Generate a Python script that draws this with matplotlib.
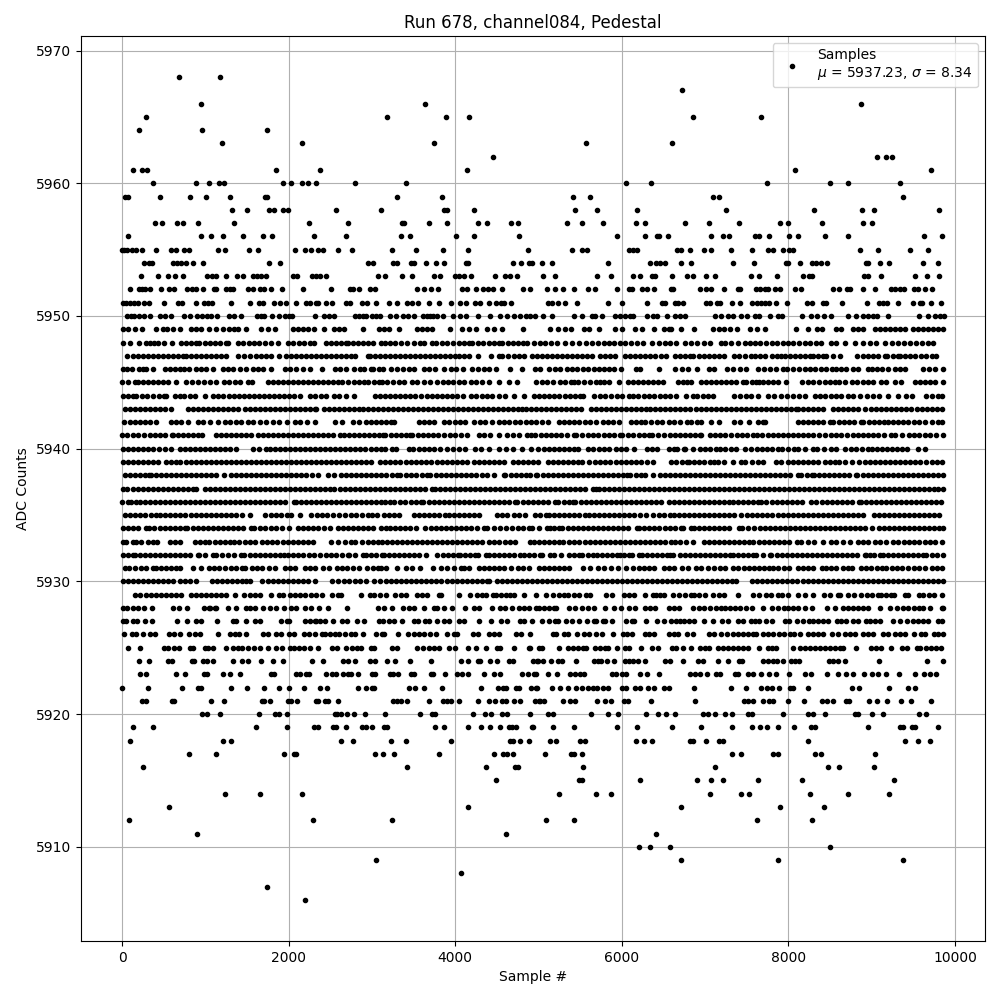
import matplotlib
matplotlib.use('Agg')
import matplotlib.pyplot as plt

# sample numbers, one list per ADC level
lvl_5968 = [682, 1173]
lvl_5967 = [6721]
lvl_5966 = [946, 3640, 8876]
lvl_5965 = [287, 3184, 3890, 4165, 6853, 7667]
lvl_5964 = [203, 958, 1736]
lvl_5963 = [1197, 2155, 3747, 5572, 6602]
lvl_5962 = [4453, 9068, 9175, 9247]
lvl_5961 = [132, 235, 299, 1843, 2370, 4142, 8074, 9714]
lvl_5960 = [371, 886, 1041, 1161, 1225, 1927, 2023, 2155, 2226, 2322, 2801, 3412, 6051, 6350, 7739, 8493, 8709, 9343]
lvl_5959 = [40, 72, 455, 814, 1005, 1293, 1712, 1740, 3304, 3842, 5417, 5620, 7089, 7160, 9379]
lvl_5958 = [1317, 1497, 1760, 1820, 1927, 1987, 2574, 3112, 3862, 3906, 4225, 5441, 5704, 6183, 7248, 8301, 8888, 9032, 9810]
lvl_5957 = [395, 479, 658, 730, 910, 1341, 2238, 2717, 3356, 3384, 3687, 3902, 4273, 4381, 4668, 4752, 5345, 5524, 5776, 6171, 6279, 6757, 7045, 7404, 7895, 7990, 8397, 8900, 9008]
lvl_5956 = [72, 946, 1065, 1209, 1448, 1688, 1796, 2298, 2693, 3352, 3459, 4010, 4225, 4764, 5943, 6279, 6422, 6446, 6554, 7069, 7212, 7284, 7595, 7643, 7763, 8002, 8110, 8433, 8720, 9630, 9846]
lvl_5955 = [0, 24, 64, 124, 164, 239, 407, 590, 646, 742, 802, 1149, 1233, 1520, 1628, 2071, 2190, 2262, 2346, 2406, 2597, 2765, 3244, 3531, 3854, 4154, 4872, 5405, 5524, 5584, 6087, 6135, 6183, 6662, 6710, 6817, 6985, 7069, 7308, 7559, 7751, 7811, 7930, 8002, 8050, 8864, 9079, 9463, 9678]
lvl_5954 = [263, 323, 363, 610, 662, 702, 766, 854, 970, 1760, 1891, 2957, 3016, 3256, 3304, 3467, 3503, 3651, 3771, 3866, 4134, 4154, 4692, 4788, 4880, 4920, 5046, 5165, 5836, 6338, 6410, 6458, 6518, 6710, 6829, 7332, 7583, 7966, 7990, 8134, 8278, 8325, 8385, 8457, 8936, 8960, 9103, 9211, 9618, 9798]
lvl_5953 = [227, 431, 551, 634, 730, 1017, 1077, 1125, 1249, 1377, 1448, 1568, 1620, 1672, 1724, 2047, 2099, 2274, 2322, 2370, 2442, 3076, 3160, 3364, 3483, 3747, 3815, 3998, 4046, 4106, 4186, 4473, 4597, 4656, 4740, 5058, 5201, 5704, 5872, 6135, 6219, 6362, 6398, 6602, 6781, 6853, 7009, 7116, 7547, 7643, 7859, 8170, 8242, 8278, 8912, 8960, 9115, 9522, 9666, 9810]
lvl_5952 = [96, 203, 243, 271, 335, 467, 563, 622, 778, 838, 882, 970, 1101, 1125, 1245, 1293, 1337, 1508, 1568, 1652, 1708, 1784, 1915, 2167, 2502, 2741, 2777, 2849, 2981, 3040, 3543, 3627, 3711, 3795, 4082, 4142, 4249, 4333, 4393, 4453, 4561, 4812, 4896, 5105, 5201, 5297, 5429, 5596, 5680, 5943, 6087, 6123, 6243, 6302, 6386, 6590, 6614, 6937, 7009, 7069, 7224, 7392, 7416, 7607, 7655, 7715, 7751, 7835, 7895, 8074, 8146, 8529, 8601, 8697, 8744, 8900, 9044, 9235, 9283, 9343, 9391, 9510, 9558, 9642, 9726]
lvl_5951 = [12, 44, 96, 144, 192, 263, 323, 503, 670, 718, 886, 981, 1029, 1077, 1305, 1532, 1640, 1688, 1820, 1891, 1963, 2083, 2202, 2258, 2322, 2346, 2442, 2514, 2693, 2741, 2885, 2945, 3052, 3208, 3304, 3423, 3479, 3551, 3687, 3807, 3950, 4058, 4126, 4237, 4293, 4405, 4489, 4549, 4585, 4668, 5117, 5165, 5237, 5321, 5465, 5836, 6003, 6302, 6482, 6518, 6638, 6674, 6733, 7009, 7057, 7140, 7172, 7320, 7416, 7559, 7619, 7667, 7715, 7763, 7847, 7978, 8218, 8278, 8409, 8445, 8637, 8948, 9092, 9139, 9187, 9319, 9498, 9582, 9606, 9714, 9834]
lvl_5950 = [64, 104, 144, 203, 263, 335, 455, 510, 591, 742, 814, 902, 960, 1021, 1069, 1141, 1281, 1349, 1425, 1620, 1665, 1708, 1796, 1879, 1951, 2000, 2039, 2310, 2418, 2480, 2538, 2797, 2850, 2897, 2933, 2997, 3050, 3096, 3216, 3290, 3368, 3435, 3503, 3615, 3660, 3695, 3727, 3783, 3847, 3974, 4054, 4126, 4273, 4421, 4541, 4621, 4708, 4772, 4844, 4900, 4952, 5058, 5165, 5429, 5524, 5636, 5676, 5764, 5915, 5975, 6035, 6095, 6135, 6302, 6374, 6422, 6542, 6638, 6700, 6753, 7116, 7188, 7272, 7332, 7432, 7500, 7595, 7651, 7775, 7871, 7919, 8158, 8265, 8337, 8429, 8509, 8720, 8808, 8900, 8960, 9020, 9067, 9199, 9570, 9678, 9758, 9814, 9866]
lvl_5949 = [9, 69, 149, 241, 409, 489, 541, 609, 701, 829, 890, 950, 1049, 1129, 1209, 1280, 1349, 1389, 1489, 1669, 1749, 1841, 2049, 2110, 2170, 2229, 2309, 2429, 2549, 2610, 2669, 2889, 3089, 3140, 3202, 3322, 3542, 3600, 3660, 3722, 3942, 4082, 4162, 4246, 4382, 4470, 4562, 4814, 5142, 5230, 5314, 5394, 5542, 5602, 5722, 5922, 6002, 6162, 6242, 6382, 6502, 6562, 6595, 6715, 6867, 7095, 7160, 7230, 7295, 7383, 7539, 7627, 7723, 8091, 8235, 8347, 8403, 8575, 8635, 8775, 8840, 8895, 9035, 9095, 9155, 9215, 9275, 9335, 9395, 9495, 9555, 9615, 9675, 9735, 9795, 9860]
lvl_5948 = [9, 89, 197, 289, 340, 389, 437, 509, 597, 709, 770, 830, 889, 929, 990, 1050, 1110, 1170, 1249, 1269, 1389, 1450, 1520, 1589, 1649, 1710, 1790, 1869, 1989, 2050, 2120, 2180, 2250, 2309, 2449, 2510, 2570, 2630, 2689, 2709, 2770, 2830, 2890, 2950, 3010, 3109, 3160, 3220, 3282, 3350, 3422, 3500, 3582, 3622, 3722, 3774, 3840, 3900, 3970, 4040, 4100, 4162, 4202, 4270, 4330, 4400, 4460, 4522, 4562, 4630, 4690, 4750, 4814, 4862, 4942, 5022, 5082, 5150, 5222, 5322, 5400, 5482, 5574, 5640, 5710, 5780, 5840, 5910, 5980, 6040, 6110, 6180, 6254, 6362, 6440, 6515, 6582, 6650, 6755, 6835, 6900, 6980, 7055, 7195, 7235, 7307, 7390, 7475, 7535, 7595, 7660, 7730, 7800, 7860, 7930, 8000, 8060, 8130, 8200, 8260, 8330, 8395, 8507, 8575, 8675, 8795, 8895, 8975, 9055, 9163, 9240, 9315, 9387, 9460, 9530, 9600, 9675, 9735]
lvl_5947 = [60, 130, 190, 250, 310, 370, 430, 489, 550, 610, 670, 729, 770, 830, 890, 949, 1009, 1069, 1130, 1190, 1250, 1389, 1460, 1541, 1609, 1669, 1729, 1789, 1880, 1969, 2030, 2090, 2150, 2210, 2270, 2330, 2390, 2450, 2510, 2570, 2630, 2690, 2750, 2800, 2950, 2982, 3042, 3100, 3160, 3220, 3280, 3340, 3400, 3460, 3520, 3580, 3640, 3700, 3760, 3820, 3880, 3940, 4000, 4050, 4102, 4162, 4270, 4430, 4522, 4562, 4630, 4700, 4770, 4822, 4922, 4980, 5040, 5100, 5160, 5220, 5280, 5340, 5400, 5460, 5520, 5580, 5642, 5742, 5800, 5860, 5922, 6042, 6100, 6160, 6220, 6280, 6342, 6402, 6470, 6534, 6643, 6700, 6760, 6815, 6855, 6920, 6980, 7040, 7100, 7160, 7227, 7347, 7410, 7480, 7555, 7595, 7660, 7715, 7803, 7860, 7915, 7963, 8020, 8080, 8140, 8200, 8255, 8295, 8355, 8415, 8455, 8530, 8615, 8827, 8890, 8950, 9010, 9080, 9155, 9187, 9250, 9315, 9335, 9400, 9460, 9520, 9590, 9650, 9720, 9775]
lvl_5946 = [9, 60, 120, 200, 250, 290, 370, 520, 570, 630, 690, 740, 800, 890, 950, 1010, 1090, 1210, 1270, 1330, 1410, 1490, 1570, 1630, 1690, 1790, 1950, 2020, 2090, 2170, 2250, 2400, 2560, 2620, 2690, 2780, 2860, 2910, 2990, 3010, 3080, 3130, 3230, 3300, 3370, 3440, 3500, 3620, 3690, 3760, 3870, 3950, 4010, 4090, 4200, 4270, 4340, 4400, 4490, 4660, 4800, 4960, 5020, 5120, 5200, 5260, 5340, 5400, 5460, 5530, 5590, 5660, 5720, 5790, 5850, 5910, 5990, 6170, 6220, 6450, 6640, 6720, 6790, 6900, 7040, 7110, 7260, 7340, 7420, 7490, 7630, 7710, 7780, 7850, 7940, 7980, 8060, 8130, 8200, 8260, 8320, 8390, 8450, 8520, 8570, 8630, 8690, 8770, 8830, 8950, 9000, 9060, 9120, 9200, 9280, 9340, 9400, 9620, 9690, 9760, 9850]
lvl_5945 = [0, 70, 149, 189, 250, 310, 370, 430, 490, 550, 645, 769, 840, 917, 989, 1060, 1129, 1221, 1280, 1350, 1420, 1509, 1557, 1749, 1810, 1870, 1930, 1990, 2050, 2110, 2170, 2230, 2290, 2350, 2410, 2470, 2530, 2589, 2637, 2709, 2780, 2850, 2909, 2949, 3029, 3082, 3122, 3182, 3250, 3320, 3382, 3482, 3542, 3620, 3694, 3782, 3850, 3910, 3974, 4042, 4110, 4190, 4250, 4320, 4402, 4522, 4642, 4742, 4974, 5040, 5100, 5170, 5254, 5322, 5390, 5430, 5470, 5540, 5620, 5694, 5734, 5790, 5842, 5962, 6070, 6130, 6190, 6250, 6310, 6370, 6430, 6494, 6675, 6730, 6787, 6827, 6955, 7010, 7070, 7130, 7190, 7250, 7310, 7370, 7455, 7495, 7560, 7615, 7643, 7700, 7760, 7820, 7880, 7975, 8163, 8230, 8300, 8370, 8440, 8500, 8555, 8603, 8680, 8763, 8827, 8900, 8960, 9015, 9107, 9175, 9283, 9355, 9515, 9580, 9640, 9700, 9760, 9855]
lvl_5944 = [9, 70, 130, 170, 240, 300, 370, 440, 500, 530, 630, 690, 740, 810, 880, 1000, 1090, 1150, 1210, 1280, 1340, 1400, 1460, 1520, 1580, 1640, 1700, 1760, 1820, 1880, 1940, 2000, 2060, 2140, 2260, 2320, 2390, 2450, 2540, 2610, 2690, 2780, 3040, 3100, 3160, 3220, 3280, 3340, 3400, 3460, 3520, 3590, 3660, 3720, 3780, 3840, 3900, 3960, 4020, 4090, 4190, 4250, 4320, 4380, 4440, 4520, 4600, 4710, 4830, 4950, 5010, 5070, 5130, 5190, 5250, 5320, 5380, 5440, 5500, 5530, 5670, 5740, 5800, 5870, 5940, 6000, 6090, 6130, 6190, 6270, 6320, 6390, 6460, 6520, 6580, 6650, 6770, 6850, 6900, 6970, 7030, 7090, 7350, 7420, 7490, 7550, 7640, 7760, 7830, 7910, 7980, 8050, 8130, 8200, 8320, 8380, 8440, 8510, 8570, 8630, 8710, 8780, 8860, 8940, 9010, 9090, 9190, 9320, 9410, 9480, 9650, 9720, 9800, 9840]
lvl_5943 = [30, 90, 150, 210, 270, 330, 390, 450, 510, 590, 790, 850, 910, 970, 1030, 1090, 1150, 1210, 1270, 1330, 1390, 1470, 1530, 1590, 1650, 1710, 1770, 1830, 1890, 1950, 2010, 2070, 2130, 2190, 2250, 2310, 2330, 2420, 2480, 2540, 2600, 2660, 2720, 2780, 2840, 2890, 2950, 3010, 3070, 3130, 3190, 3250, 3310, 3370, 3430, 3490, 3550, 3610, 3670, 3730, 3790, 3850, 3910, 3970, 4030, 4090, 4150, 4210, 4270, 4330, 4390, 4450, 4510, 4570, 4630, 4690, 4750, 4800, 4850, 4910, 4970, 5030, 5090, 5150, 5210, 5270, 5330, 5390, 5450, 5510, 5630, 5690, 5750, 5810, 5870, 5930, 5990, 6050, 6110, 6170, 6230, 6290, 6340, 6400, 6460, 6520, 6580, 6640, 6700, 6760, 6820, 6890, 6950, 7010, 7070, 7130, 7190, 7250, 7310, 7370, 7430, 7490, 7550, 7610, 7670, 7730, 7790, 7850, 7910, 7970, 8030, 8090, 8120, 8180, 8240, 8300, 8360, 8420, 8540, 8600, 8660, 8720, 8780, 8840, 8920, 8990, 9050, 9110, 9170, 9230, 9290, 9350, 9410, 9470, 9540, 9600, 9660, 9720, 9780, 9845]
lvl_5942 = [20, 90, 150, 210, 270, 330, 410, 590, 650, 710, 790, 910, 970, 1060, 1150, 1230, 1300, 1370, 1430, 1510, 1570, 1660, 1730, 1810, 1880, 1980, 2070, 2140, 2220, 2310, 2550, 2640, 2770, 2850, 2930, 2990, 3050, 3110, 3170, 3230, 3270, 3560, 3620, 3680, 3740, 3860, 3930, 4000, 4060, 4120, 4230, 4300, 4360, 4440, 4520, 4580, 4640, 4720, 4780, 4850, 4910, 4970, 5040, 5110, 5250, 5300, 5360, 5420, 5490, 5560, 5620, 5690, 5770, 5830, 5890, 5970, 6110, 6170, 6230, 6280, 6350, 6420, 6480, 6560, 6620, 6700, 6780, 6830, 6900, 6950, 7070, 7170, 7350, 7420, 7530, 7640, 7700, 7720, 8110, 8170, 8230, 8290, 8350, 8410, 8500, 8530, 8610, 8670, 8730, 8790, 8870, 8900, 8970, 9030, 9090, 9150, 9200, 9260, 9310, 9370, 9430, 9510, 9570, 9640, 9720, 9790, 9840]
lvl_5941 = [0, 60, 130, 189, 269, 330, 390, 450, 520, 597, 609, 670, 730, 790, 850, 910, 965, 1125, 1190, 1250, 1310, 1370, 1430, 1490, 1549, 1629, 1690, 1750, 1810, 1870, 1930, 1990, 2050, 2110, 2170, 2230, 2290, 2350, 2410, 2470, 2530, 2621, 2661, 2720, 2780, 2840, 2900, 2960, 3020, 3080, 3134, 3162, 3225, 3290, 3350, 3410, 3462, 3482, 3550, 3610, 3670, 3730, 3790, 3862, 3934, 4000, 4070, 4142, 4282, 4350, 4420, 4522, 4622, 4690, 4760, 4862, 4910, 4962, 5030, 5090, 5150, 5210, 5270, 5340, 5422, 5454, 5520, 5590, 5650, 5710, 5780, 5840, 5910, 5982, 6002, 6070, 6130, 6200, 6260, 6322, 6362, 6430, 6500, 6582, 6640, 6700, 6760, 6820, 6880, 6935, 6955, 7055, 7115, 7180, 7240, 7310, 7380, 7443, 7507, 7570, 7627, 7683, 7750, 7810, 7870, 7930, 7990, 8050, 8110, 8170, 8230, 8300, 8363, 8443, 8507, 8570, 8630, 8700, 8770, 8835, 8895, 8960, 9020, 9080, 9150, 9227, 9283, 9360, 9443, 9507, 9570, 9640, 9700, 9770, 9860]
lvl_5940 = [9, 70, 130, 190, 250, 310, 370, 440, 510, 590, 700, 760, 820, 880, 940, 1000, 1060, 1120, 1180, 1240, 1300, 1370, 1570, 1640, 1730, 1780, 1840, 1900, 1960, 2020, 2080, 2140, 2200, 2260, 2320, 2380, 2440, 2500, 2560, 2620, 2680, 2740, 2800, 2860, 2920, 2990, 3050, 3110, 3160, 3240, 3290, 3440, 3490, 3560, 3630, 3690, 3750, 3820, 3900, 3970, 4050, 4120, 4240, 4310, 4400, 4530, 4610, 4690, 4800, 4910, 4990, 5060, 5120, 5180, 5240, 5300, 5360, 5420, 5470, 5590, 5650, 5730, 5790, 5850, 5930, 5990, 6050, 6150, 6300, 6360, 6420, 6560, 6630, 6660, 6750, 6760, 6850, 6940, 7000, 7060, 7130, 7180, 7240, 7310, 7370, 7480, 7550, 7620, 7680, 7740, 7800, 7880, 7920, 8000, 8070, 8120, 8200, 8290, 8340, 8430, 8510, 8570, 8680, 8750, 8810, 8880, 8950, 9000, 9060, 9120, 9180, 9240, 9300, 9360, 9420, 9560, 9640]
lvl_5939 = [9, 70, 130, 190, 250, 310, 370, 430, 530, 590, 650, 690, 770, 830, 890, 950, 1010, 1070, 1130, 1190, 1250, 1310, 1370, 1430, 1490, 1550, 1610, 1670, 1730, 1790, 1850, 1910, 1970, 2030, 2090, 2150, 2210, 2270, 2330, 2390, 2450, 2510, 2570, 2630, 2690, 2750, 2810, 2870, 2930, 2990, 3100, 3160, 3220, 3280, 3340, 3410, 3470, 3530, 3590, 3650, 3710, 3780, 3840, 3900, 3960, 4020, 4080, 4140, 4220, 4280, 4340, 4400, 4460, 4520, 4580, 4690, 4750, 4810, 4870, 4930, 4990, 5110, 5170, 5230, 5290, 5350, 5410, 5470, 5520, 5610, 5680, 5740, 5800, 5860, 5930, 5990, 6050, 6110, 6170, 6230, 6300, 6370, 6590, 6650, 6720, 6780, 6810, 6870, 6920, 6980, 7060, 7100, 7150, 7220, 7340, 7430, 7480, 7560, 7640, 7700, 7850, 7910, 8000, 8060, 8120, 8180, 8240, 8300, 8360, 8440, 8500, 8560, 8610, 8680, 8760, 8850, 8920, 8980, 9040, 9100, 9160, 9220, 9280, 9340, 9400, 9460, 9520, 9580, 9650, 9720, 9780, 9840]
lvl_5938 = [30, 90, 150, 210, 270, 329, 349, 410, 470, 530, 590, 650, 710, 770, 830, 890, 950, 1010, 1070, 1130, 1229, 1309, 1370, 1430, 1490, 1550, 1610, 1670, 1730, 1790, 1850, 1910, 1970, 2030, 2090, 2150, 2210, 2280, 2349, 2469, 2549, 2629, 2690, 2750, 2810, 2870, 2930, 2990, 3050, 3109, 3170, 3240, 3302, 3342, 3410, 3470, 3530, 3600, 3662, 3702, 3770, 3830, 3890, 3950, 4010, 4070, 4130, 4190, 4250, 4320, 4382, 4462, 4582, 4602, 4670, 4730, 4790, 4854, 4894, 4970, 4982, 5050, 5110, 5170, 5230, 5290, 5350, 5410, 5470, 5530, 5590, 5650, 5710, 5770, 5830, 5890, 5950, 6010, 6062, 6102, 6170, 6230, 6282, 6374, 6462, 6522, 6582, 6640, 6700, 6760, 6820, 6880, 6940, 7000, 7060, 7120, 7180, 7240, 7300, 7360, 7420, 7480, 7540, 7600, 7660, 7720, 7780, 7840, 7900, 7960, 8020, 8115, 8147, 8220, 8287, 8303, 8370, 8430, 8490, 8550, 8610, 8670, 8730, 8815, 8827, 8890, 8950, 9010, 9070, 9130, 9190, 9250, 9310, 9370, 9430, 9490, 9550, 9610, 9670, 9730, 9790, 9850]
lvl_5937 = [9, 60, 130, 190, 250, 310, 370, 430, 490, 550, 610, 670, 730, 790, 850, 890, 1000, 1060, 1120, 1180, 1240, 1300, 1360, 1420, 1480, 1540, 1600, 1660, 1720, 1780, 1840, 1900, 1960, 2020, 2080, 2140, 2200, 2260, 2320, 2380, 2440, 2500, 2540, 2620, 2680, 2740, 2800, 2860, 2920, 2980, 3040, 3100, 3160, 3220, 3280, 3340, 3400, 3460, 3520, 3580, 3640, 3720, 3760, 3820, 3880, 3940, 4000, 4060, 4120, 4180, 4240, 4300, 4360, 4420, 4480, 4540, 4600, 4660, 4720, 4780, 4840, 4900, 4960, 5020, 5080, 5140, 5200, 5260, 5320, 5380, 5440, 5500, 5560, 5650, 5690, 5730, 5790, 5850, 5910, 5970, 6030, 6090, 6150, 6210, 6270, 6330, 6390, 6450, 6510, 6570, 6630, 6690, 6750, 6810, 6870, 6930, 6990, 7050, 7110, 7170, 7230, 7290, 7350, 7410, 7470, 7530, 7590, 7650, 7710, 7770, 7830, 7890, 7950, 8010, 8070, 8130, 8190, 8250, 8310, 8370, 8430, 8490, 8550, 8610, 8670, 8730, 8790, 8850, 8910, 8970, 9030, 9090, 9150, 9210, 9270, 9330, 9390, 9450, 9510, 9570, 9630, 9690, 9750, 9800, 9850]
lvl_5936 = [0, 69, 109, 169, 209, 279, 340, 400, 460, 520, 580, 640, 700, 760, 820, 880, 940, 1000, 1060, 1120, 1180, 1240, 1300, 1360, 1420, 1480, 1540, 1600, 1660, 1720, 1780, 1840, 1900, 1960, 2069, 2089, 2150, 2210, 2270, 2330, 2390, 2450, 2510, 2570, 2630, 2690, 2750, 2810, 2870, 2930, 2990, 3050, 3109, 3160, 3222, 3270, 3340, 3400, 3470, 3530, 3590, 3614, 3680, 3740, 3800, 3860, 3920, 3980, 4040, 4100, 4160, 4220, 4280, 4340, 4400, 4460, 4520, 4580, 4640, 4722, 4742, 4810, 4870, 4930, 4990, 5050, 5110, 5202, 5230, 5300, 5360, 5414, 5442, 5510, 5570, 5630, 5690, 5750, 5810, 5870, 5930, 5990, 6050, 6110, 6170, 6230, 6290, 6350, 6410, 6470, 6562, 6620, 6680, 6740, 6800, 6860, 6920, 6980, 7040, 7100, 7160, 7220, 7280, 7340, 7400, 7460, 7520, 7580, 7635, 7675, 7735, 7800, 7860, 7920, 7980, 8040, 8100, 8160, 8267, 8335, 8400, 8460, 8520, 8580, 8640, 8700, 8760, 8843, 8867, 8930, 8990, 9050, 9110, 9170, 9230, 9290, 9350, 9410, 9470, 9530, 9590, 9650, 9710, 9770, 9835]
lvl_5935 = [30, 90, 150, 210, 270, 350, 410, 450, 510, 570, 630, 690, 750, 830, 890, 950, 1010, 1070, 1130, 1190, 1250, 1310, 1370, 1440, 1540, 1710, 1790, 1850, 1910, 1980, 2030, 2130, 2270, 2340, 2400, 2460, 2530, 2600, 2680, 2750, 2810, 2880, 2950, 3000, 3060, 3150, 3200, 3260, 3330, 3510, 3570, 3630, 3690, 3750, 3810, 3880, 3930, 3990, 4050, 4110, 4170, 4230, 4290, 4500, 4560, 4620, 4700, 4770, 4840, 4960, 5020, 5090, 5130, 5190, 5250, 5310, 5370, 5430, 5490, 5560, 5610, 5670, 5730, 5790, 5850, 5910, 5970, 6030, 6090, 6150, 6220, 6290, 6370, 6440, 6510, 6580, 6630, 6690, 6750, 6810, 6870, 6930, 6990, 7050, 7110, 7170, 7230, 7290, 7350, 7430, 7500, 7560, 7620, 7680, 7740, 7800, 7870, 7930, 7990, 8050, 8110, 8170, 8230, 8290, 8350, 8410, 8470, 8530, 8590, 8650, 8710, 8770, 8830, 8890, 9030, 9090, 9150, 9210, 9270, 9330, 9390, 9450, 9510, 9570, 9630, 9690, 9750, 9810]
lvl_5934 = [9, 70, 130, 190, 289, 329, 389, 450, 510, 570, 630, 690, 757, 781, 850, 910, 970, 1030, 1090, 1150, 1210, 1270, 1330, 1390, 1450, 1549, 1589, 1650, 1720, 1790, 1850, 1921, 2009, 2109, 2170, 2230, 2290, 2350, 2420, 2501, 2589, 2650, 2710, 2770, 2830, 2890, 2950, 3010, 3109, 3174, 3214, 3280, 3340, 3400, 3460, 3534, 3642, 3710, 3770, 3830, 3890, 3950, 4010, 4070, 4130, 4190, 4260, 4342, 4382, 4460, 4542, 4614, 4680, 4750, 4810, 4882, 4922, 5000, 5102, 5142, 5182, 5242, 5282, 5350, 5410, 5470, 5530, 5590, 5650, 5710, 5770, 5830, 5890, 5950, 6010, 6070, 6182, 6202, 6270, 6330, 6390, 6450, 6515, 6582, 6640, 6707, 6735, 6835, 6867, 6930, 6990, 7050, 7110, 7170, 7230, 7290, 7403, 7443, 7520, 7587, 7655, 7720, 7780, 7840, 7900, 7960, 8020, 8080, 8140, 8200, 8260, 8320, 8380, 8440, 8500, 8560, 8620, 8680, 8740, 8800, 8860, 8920, 9003, 9083, 9150, 9210, 9270, 9330, 9390, 9450, 9510, 9570, 9630, 9690, 9750, 9810, 9860]
lvl_5933 = [9, 50, 130, 170, 230, 310, 370, 420, 580, 630, 690, 870, 930, 990, 1040, 1120, 1180, 1240, 1300, 1340, 1400, 1470, 1530, 1590, 1680, 1740, 1800, 1860, 1930, 1990, 2050, 2110, 2170, 2230, 2290, 2510, 2590, 2680, 2750, 2800, 2880, 2950, 3010, 3070, 3120, 3180, 3240, 3300, 3360, 3420, 3480, 3540, 3600, 3660, 3720, 3780, 3840, 3900, 3960, 4020, 4080, 4140, 4200, 4260, 4320, 4400, 4460, 4520, 4600, 4660, 4722, 4894, 4950, 5010, 5070, 5130, 5190, 5250, 5290, 5360, 5420, 5490, 5560, 5620, 5680, 5740, 5800, 5860, 5920, 5980, 6040, 6100, 6160, 6220, 6280, 6340, 6400, 6460, 6520, 6590, 6640, 6700, 6770, 6850, 6990, 7050, 7110, 7170, 7230, 7290, 7350, 7410, 7470, 7530, 7570, 7650, 7710, 7770, 7830, 7890, 7950, 8010, 8100, 8150, 8240, 8310, 8420, 8510, 8570, 8650, 8740, 8830, 8890, 8950, 9040, 9100, 9170, 9250, 9320, 9390, 9450, 9510, 9570, 9640, 9700, 9760, 9840]
lvl_5932 = [9, 70, 129, 149, 210, 270, 330, 390, 450, 510, 570, 630, 690, 750, 810, 909, 929, 990, 1089, 1129, 1200, 1270, 1340, 1429, 1469, 1530, 1590, 1650, 1710, 1770, 1830, 1890, 1949, 1989, 2050, 2110, 2170, 2240, 2309, 2381, 2450, 2510, 2570, 2640, 2709, 2729, 2800, 2889, 2929, 2990, 3050, 3122, 3142, 3200, 3260, 3320, 3380, 3440, 3500, 3560, 3654, 3782, 3850, 3910, 3970, 4030, 4054, 4120, 4180, 4242, 4270, 4374, 4402, 4470, 4530, 4590, 4650, 4710, 4782, 4822, 4880, 4950, 5022, 5042, 5142, 5182, 5270, 5362, 5420, 5482, 5522, 5590, 5654, 5702, 5760, 5820, 5880, 5942, 5974, 6030, 6082, 6122, 6202, 6242, 6300, 6360, 6420, 6480, 6540, 6582, 6615, 6695, 6755, 6820, 6880, 6940, 7000, 7060, 7120, 7180, 7240, 7295, 7335, 7400, 7460, 7520, 7575, 7615, 7690, 7775, 7795, 7860, 7920, 7980, 8040, 8100, 8160, 8220, 8280, 8340, 8400, 8460, 8520, 8580, 8640, 8700, 8760, 8820, 8915, 8935, 8975, 9027, 9095, 9135, 9200, 9260, 9320, 9380, 9440, 9500, 9560, 9615, 9655, 9720, 9780, 9850]
lvl_5931 = [30, 80, 150, 230, 290, 370, 410, 470, 530, 590, 650, 700, 850, 950, 1040, 1100, 1160, 1240, 1310, 1370, 1440, 1480, 1560, 1620, 1680, 1760, 1830, 1950, 2010, 2080, 2190, 2250, 2310, 2410, 2480, 2580, 2640, 2700, 2770, 2840, 2940, 3010, 3070, 3110, 3170, 3300, 3410, 3480, 3580, 3730, 3830, 3900, 3980, 4070, 4110, 4170, 4280, 4350, 4410, 4470, 4530, 4590, 4670, 4750, 4810, 4880, 5000, 5060, 5120, 5180, 5240, 5300, 5370, 5530, 5620, 5710, 5790, 5870, 5950, 6050, 6130, 6200, 6260, 6330, 6390, 6500, 6560, 6630, 6720, 6790, 6890, 6950, 7030, 7100, 7180, 7240, 7340, 7400, 7470, 7530, 7590, 7650, 7710, 7770, 7810, 7880, 7950, 8010, 8120, 8180, 8240, 8300, 8400, 8450, 8510, 8570, 8650, 8710, 8760, 8870, 8930, 8990, 9060, 9120, 9170, 9240, 9300, 9360, 9430, 9510, 9570, 9640, 9720, 9780, 9840]
lvl_5930 = [9, 70, 130, 190, 250, 310, 370, 430, 490, 550, 610, 690, 750, 810, 890, 1080, 1140, 1200, 1260, 1320, 1380, 1440, 1490, 1530, 1680, 1750, 1810, 1870, 1930, 1990, 2050, 2110, 2170, 2230, 2310, 2520, 2590, 2660, 2730, 2800, 2860, 2930, 3030, 3100, 3170, 3230, 3290, 3350, 3410, 3470, 3530, 3590, 3650, 3710, 3770, 3830, 3900, 3960, 4020, 4080, 4140, 4200, 4260, 4320, 4380, 4400, 4500, 4560, 4620, 4680, 4740, 4800, 4860, 4920, 4980, 5040, 5100, 5160, 5220, 5280, 5340, 5400, 5460, 5520, 5580, 5640, 5700, 5760, 5820, 5880, 5940, 6000, 6060, 6120, 6180, 6240, 6300, 6360, 6420, 6480, 6540, 6600, 6660, 6720, 6780, 6840, 6900, 6960, 7020, 7080, 7140, 7200, 7260, 7320, 7370, 7560, 7620, 7680, 7740, 7800, 7860, 7920, 7980, 8040, 8100, 8170, 8230, 8290, 8350, 8410, 8470, 8530, 8590, 8650, 8710, 8770, 8830, 8890, 8950, 9010, 9070, 9130, 9190, 9250, 9310, 9370, 9430, 9490, 9550, 9610, 9670, 9730, 9790, 9850]
lvl_5929 = [160, 220, 290, 350, 410, 470, 530, 590, 650, 710, 830, 890, 950, 1010, 1070, 1130, 1190, 1250, 1350, 1460, 1530, 1590, 1660, 1790, 1880, 1930, 2010, 2070, 2130, 2190, 2270, 2330, 2400, 2520, 2590, 2630, 2870, 2980, 3030, 3100, 3170, 3280, 3350, 3410, 3540, 3600, 3660, 3800, 3830, 4040, 4180, 4260, 4320, 4370, 4450, 4490, 4550, 4610, 4660, 4700, 4830, 4970, 5090, 5170, 5240, 5300, 5350, 5420, 5490, 5570, 5620, 5810, 5880, 6020, 6090, 6150, 6280, 6370, 6410, 6460, 6510, 6610, 6680, 6760, 6830, 6860, 6930, 7000, 7090, 7160, 7230, 7390, 7570, 7650, 7730, 7790, 7870, 7920, 8000, 8110, 8200, 8290, 8430, 8500, 8590, 8620, 8710, 8790, 8870, 8940, 9000, 9070, 9110, 9170, 9230, 9270, 9400, 9440, 9570, 9620, 9690, 9750, 9840]
lvl_5928 = [9, 60, 130, 190, 260, 360, 610, 680, 780, 980, 1040, 1050, 1120, 1130, 1270, 1370, 1490, 1540, 1600, 1690, 1780, 1850, 1940, 2030, 2090, 2190, 2270, 2360, 2470, 2700, 3070, 3150, 3240, 3370, 3440, 3510, 3630, 3750, 3780, 3870, 3960, 4120, 4230, 4280, 4440, 4540, 4600, 4680, 4770, 4820, 4880, 4970, 5000, 5060, 5120, 5180, 5210, 5360, 5440, 5520, 5590, 5670, 5800, 5910, 5990, 6080, 6160, 6280, 6340, 6400, 6560, 6620, 6690, 6850, 6920, 6990, 7060, 7130, 7190, 7240, 7300, 7360, 7420, 7490, 7560, 7700, 7800, 7870, 7950, 8000, 8060, 8120, 8200, 8280, 8460, 8560, 8650, 8720, 8780, 8840, 8900, 8960, 9100, 9220, 9300, 9380, 9440, 9510, 9570, 9620, 9700, 9840, 9860]
lvl_5927 = [9, 50, 130, 180, 270, 360, 660, 780, 890, 950, 1140, 1330, 1370, 1490, 1590, 1650, 1910, 1980, 2000, 2190, 2250, 2310, 2330, 2370, 2430, 2530, 2640, 2700, 2820, 2910, 3090, 3130, 3200, 3270, 3360, 3510, 3550, 3640, 3680, 3780, 3870, 3930, 4040, 4100, 4280, 4430, 4550, 4620, 4780, 4830, 4920, 5040, 5120, 5200, 5230, 5330, 5400, 5480, 5580, 5660, 5690, 5770, 5800, 5880, 6050, 6120, 6150, 6290, 6420, 6510, 6590, 6650, 6700, 6750, 6800, 6860, 6980, 7090, 7200, 7270, 7390, 7460, 7550, 7600, 7650, 7730, 7800, 7960, 8010, 8100, 8180, 8250, 8300, 8360, 8420, 8480, 8580, 8630, 8690, 8770, 8830, 8930, 8980, 9040, 9100, 9250, 9340, 9420, 9490, 9560, 9610, 9680, 9790, 9840]
lvl_5926 = [27, 120, 170, 250, 330, 400, 560, 620, 690, 800, 870, 930, 1150, 1290, 1350, 1400, 1490, 1690, 1750, 1850, 1910, 2000, 2060, 2180, 2240, 2310, 2400, 2440, 2500, 2550, 2610, 2680, 2750, 2800, 2890, 3050, 3120, 3150, 3310, 3430, 3500, 3560, 3620, 3700, 3770, 3900, 3980, 4020, 4210, 4270, 4410, 4470, 4530, 4730, 4790, 4900, 5170, 5210, 5300, 5350, 5460, 5550, 5600, 5690, 5760, 5890, 6010, 6060, 6120, 6280, 6330, 6380, 6570, 6630, 6670, 6780, 6850, 7040, 7100, 7190, 7260, 7330, 7400, 7460, 7520, 7580, 7610, 7700, 7750, 7820, 7890, 7950, 8020, 8070, 8140, 8240, 8290, 8360, 8420, 8520, 8590, 8680, 8740, 8800, 8900, 8960, 9020, 9130, 9190, 9280, 9340, 9400, 9510, 9590, 9640, 9750, 9800, 9850]
lvl_5925 = [72, 215, 499, 550, 622, 686, 814, 850, 994, 1029, 1089, 1245, 1329, 1389, 1436, 1508, 1580, 1652, 1748, 1843, 1915, 2011, 2059, 2119, 2179, 2250, 2346, 2514, 2586, 2693, 2765, 2825, 2869, 2993, 3028, 3244, 3304, 3543, 3615, 3687, 3747, 3807, 3926, 3998, 4154, 4249, 4369, 4501, 4537, 4700, 4884, 4898, 5010, 5046, 5249, 5357, 5417, 5477, 5536, 5568, 5680, 5740, 5800, 5836, 5943, 6039, 6087, 6231, 6362, 6434, 6602, 6650, 6733, 6829, 6937, 6997, 7045, 7152, 7212, 7272, 7332, 7392, 7452, 7511, 7643, 7751, 7799, 7847, 8050, 8134, 8194, 8254, 8313, 8373, 8433, 8493, 8553, 8613, 8649, 8816, 8996, 9056, 9115, 9235, 9367, 9427, 9546, 9582, 9654, 9714, 9774, 9834]
lvl_5924 = [203, 323, 550, 598, 838, 862, 970, 1017, 1089, 1329, 1436, 1508, 1664, 1808, 1927, 2282, 2406, 2657, 2717, 2801, 2981, 3040, 3184, 3280, 3459, 3711, 4070, 4154, 4273, 4293, 4417, 4497, 4645, 4692, 4932, 4980, 4998, 5058, 5153, 5237, 5285, 5453, 5668, 5716, 5752, 5824, 5907, 6039, 6087, 6135, 6195, 6278, 6518, 6578, 6733, 6913, 6973, 7152, 7272, 7404, 7440, 7691, 7751, 7811, 7859, 7930, 8026, 8074, 8122, 8481, 8529, 8589, 8673, 9091, 9666, 9858]
lvl_5923 = [215, 287, 646, 754, 986, 1017, 1209, 1293, 1412, 1784, 1820, 2083, 2131, 2202, 2246, 2442, 2514, 2574, 2657, 2717, 2753, 2837, 3004, 3040, 3220, 3256, 3316, 3471, 3507, 3711, 3735, 3878, 4022, 4082, 4154, 4345, 4465, 4537, 4800, 4872, 4944, 4966, 5117, 5225, 5381, 5441, 5500, 5548, 5884, 5931, 6003, 6051, 6219, 6302, 6446, 6817, 6877, 6937, 7021, 7128, 7176, 7356, 7392, 7511, 7571, 7667, 7763, 7847, 8002, 8194, 8265, 8457, 8589, 8685, 8780, 8912, 9008, 9079, 9175, 9331, 9522, 9630, 9702, 9774]
lvl_5922 = [0, 311, 718, 910, 946, 1305, 1497, 1700, 1879, 1999, 2179, 2370, 2454, 2837, 2933, 3004, 3028, 3447, 3519, 3627, 3842, 4309, 4513, 4573, 4608, 4728, 4764, 4908, 4972, 4978, 5165, 5261, 5357, 5453, 5524, 5596, 5656, 5696, 5776, 5836, 6003, 6051, 6159, 6219, 6314, 6386, 6506, 6566, 6865, 7308, 7487, 7667, 7739, 7799, 7883, 8014, 8050, 8230, 8768, 8852, 9211, 9439, 9522]
lvl_5921 = [239, 287, 599, 622, 1065, 1221, 1676, 1700, 1772, 1987, 2023, 2095, 2322, 2346, 2430, 2466, 2597, 3256, 3304, 3352, 3423, 3687, 3854, 3902, 3950, 4046, 4273, 4405, 4477, 4561, 4608, 4700, 4776, 4960, 5004, 5018, 5070, 5297, 5381, 5441, 5704, 5800, 5872, 6027, 6075, 6350, 6877, 7464, 7511, 7571, 7691, 7763, 7811, 7990, 8182, 8397, 8457, 8529, 8685, 8732, 8972, 9067, 9187, 9355, 9474, 9714]
lvl_5920 = [958, 1017, 1173, 1640, 1831, 1879, 1975, 2550, 2586, 2633, 2705, 2789, 2921, 3160, 3579, 3723, 3759, 4214, 4357, 4429, 4561, 4621, 4900, 5117, 5177, 5632, 5836, 5955, 6290, 6434, 6530, 6638, 6973, 7033, 7116, 7236, 7320, 7511, 7559, 7930, 8230, 8289, 8433, 8804, 8840, 9008, 9139, 9570, 9646]
lvl_5919 = [132, 371, 1604, 1975, 2298, 2346, 2526, 2574, 2693, 2885, 2933, 3004, 3148, 3184, 3759, 3866, 4154, 4309, 4417, 4537, 4645, 4680, 4728, 4924, 4930, 5177, 5429, 5943, 6183, 6602, 6949, 7320, 7559, 7655, 7739, 7871, 8062, 8265, 8313, 8960, 9343, 9379, 9486, 9522, 9798]
lvl_5918 = [96, 1209, 1305, 2633, 2777, 3232, 3411, 3950, 4652, 4692, 4776, 4884, 5141, 5213, 5500, 5560, 6171, 6267, 6362, 6817, 6853, 7009, 7164, 7212, 8230, 9403, 9558, 9702]
lvl_5917 = [802, 1125, 1943, 2059, 2091, 3040, 3136, 3268, 3807, 4465, 4573, 4621, 4692, 5081, 5393, 5429, 5524, 7320, 7428, 7811, 7871, 8313, 8385, 9044]
lvl_5916 = [251, 3423, 4369, 4716, 4752, 5536, 7116, 8469, 8601, 9032]
lvl_5915 = [4489, 5488, 5524, 6219, 6901, 7069, 7212, 7631, 8158, 9271]
lvl_5914 = [1233, 1652, 2155, 5249, 5692, 5872, 7057, 7428, 7523, 8254, 8720, 9211]
lvl_5913 = [563, 4154, 6710, 7895, 8421]
lvl_5912 = [84, 2286, 3244, 5094, 5429, 7619, 8278]
lvl_5911 = [898, 4608, 6410]
lvl_5910 = [6207, 6338, 6578, 8493]
lvl_5909 = [3052, 6710, 7871, 9379]
lvl_5908 = [4070]
lvl_5907 = [1736]
lvl_5906 = [2190]

levels = list(range(5906, 5969))
rows = [lvl_5906, lvl_5907, lvl_5908, lvl_5909, lvl_5910, lvl_5911, lvl_5912, lvl_5913, lvl_5914, lvl_5915,
        lvl_5916, lvl_5917, lvl_5918, lvl_5919, lvl_5920, lvl_5921, lvl_5922, lvl_5923, lvl_5924, lvl_5925,
        lvl_5926, lvl_5927, lvl_5928, lvl_5929, lvl_5930, lvl_5931, lvl_5932, lvl_5933, lvl_5934, lvl_5935,
        lvl_5936, lvl_5937, lvl_5938, lvl_5939, lvl_5940, lvl_5941, lvl_5942, lvl_5943, lvl_5944, lvl_5945,
        lvl_5946, lvl_5947, lvl_5948, lvl_5949, lvl_5950, lvl_5951, lvl_5952, lvl_5953, lvl_5954, lvl_5955,
        lvl_5956, lvl_5957, lvl_5958, lvl_5959, lvl_5960, lvl_5961, lvl_5962, lvl_5963, lvl_5964, lvl_5965,
        lvl_5966, lvl_5967, lvl_5968]

xs = []
ys = []
for level, row in zip(levels, rows):
    xs += row
    ys += [level] * len(row)

fig, ax = plt.subplots(figsize=(10, 10), dpi=100)
ax.plot(xs, ys, '.', color='black', label='Samples\n$\\mu$ = 5937.23, $\\sigma$ = 8.34')
ax.set_title('Run 678, channel084, Pedestal')
ax.set_xlabel('Sample #')
ax.set_ylabel('ADC Counts')
ax.legend(loc='upper right')
ax.grid(True)
fig.subplots_adjust(left=0.081, right=0.985, top=0.964, bottom=0.059)
plt.savefig('out.png')
